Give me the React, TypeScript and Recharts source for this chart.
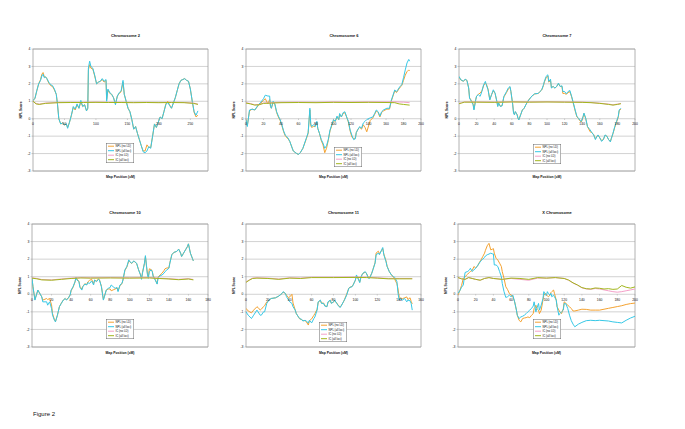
import React from 'react';
import {
  LineChart,
  Line,
  XAxis,
  YAxis,
  CartesianGrid,
  ReferenceArea,
  Legend,
  Label,
} from 'recharts';

const FONT = '"Liberation Sans", Arial, sans-serif';
const ORANGE = '#F4A230';
const CYAN = '#36C8E6';
const PINK = '#F4A0C8';
const GREEN = '#A2B61C';
const SERIES_ORDER = ['NPL (no LD)', 'NPL (all loci)', 'IC (no LD)', 'IC (all loci)'];

const yTicks = [-3, -2, -1, 0, 1, 2, 3, 4];
const chr2Ticks = [0, 50, 100, 150, 200, 250];
const ticks200 = [0, 20, 40, 60, 80, 100, 120, 140, 160, 180, 200];
const ticks180 = [0, 20, 40, 60, 80, 100, 120, 140, 160, 180];
const ticks160 = [0, 20, 40, 60, 80, 100, 120, 140, 160];

// Chromosome 2
const chr2Pos = [0, 3, 6, 9, 12, 14, 16, 18, 20, 22, 25, 28, 31, 34, 37, 39, 41, 44, 47, 50, 53, 55, 58, 61, 64, 67, 70, 73, 76, 79, 82, 85, 87, 88, 90, 92, 95, 98, 101, 104, 107, 110, 113, 116, 117, 119, 122, 125, 128, 131, 134, 137, 140, 143, 145, 148, 151, 154, 157, 160, 163, 166, 169, 172, 175, 178, 181, 184, 187, 190, 193, 196, 199, 202, 205, 208, 211, 214, 217, 220, 223, 226, 229, 232, 235, 238, 241, 244, 247, 250, 253, 256, 259, 262];
const chr2NplNoLd = [1.05, 1.15, 1.6, 2.0, 2.25, 2.55, 2.65, 2.4, 2.4, 2.3, 2.05, 1.9, 1.85, 1.65, 1.4, 0.8, 0.0, -0.3, -0.25, -0.35, -0.3, -0.5, -0.2, 0.2, 0.65, 0.5, 0.8, 0.6, 0.95, 0.7, 0.8, 0.45, 0.6, 2.8, 3.1, 2.9, 2.85, 2.45, 2.0, 2.1, 2.15, 2.25, 2.1, 2.2, 1.1, 1.65, 1.45, 1.4, 1.2, 0.85, 1.3, 1.45, 1.55, 2.1, 1.4, 1.0, 0.6, 0.4, -0.05, -0.6, -0.45, -0.85, -1.2, -1.55, -1.85, -1.85, -1.5, -1.65, -1.65, -1.0, -0.3, -0.5, -0.2, 0.1, 0.0, 0.4, 0.85, 1.0, 0.8, 0.6, 0.9, 1.2, 1.6, 2.0, 2.2, 2.25, 2.3, 2.2, 2.15, 1.7, 1.0, 0.35, 0.1, 0.2];
const chr2NplAll = [1.05, 1.15, 1.6, 2.0, 2.2, 2.45, 2.55, 2.35, 2.4, 2.3, 2.1, 1.95, 1.9, 1.7, 1.4, 0.8, 0.0, -0.3, -0.25, -0.35, -0.3, -0.55, -0.2, 0.2, 0.7, 0.55, 0.85, 0.6, 1.05, 0.7, 0.8, 0.45, 0.6, 2.9, 3.3, 3.0, 2.9, 2.5, 2.0, 2.1, 2.15, 2.3, 2.15, 2.25, 1.0, 1.7, 1.5, 1.4, 1.2, 0.8, 1.3, 1.5, 1.6, 2.2, 1.4, 1.0, 0.6, 0.4, -0.05, -0.6, -0.45, -0.85, -1.2, -1.55, -1.9, -1.95, -1.85, -1.6, -1.7, -1.0, -0.3, -0.5, -0.2, 0.1, 0.0, 0.4, 0.8, 0.95, 0.75, 0.6, 0.9, 1.2, 1.6, 2.0, 2.2, 2.25, 2.3, 2.2, 2.15, 1.7, 1.0, 0.4, 0.2, 0.45];
const chr2IcPos = [0, 5, 10, 20, 40, 60, 80, 100, 120, 140, 160, 180, 200, 220, 240, 255, 262];
const chr2IcNoLd = [1.0, 0.87, 0.84, 0.9, 0.93, 0.94, 0.94, 0.95, 0.94, 0.94, 0.93, 0.94, 0.93, 0.94, 0.93, 0.9, 0.84];
const chr2IcAll = [1.0, 0.85, 0.82, 0.88, 0.92, 0.93, 0.93, 0.94, 0.93, 0.93, 0.92, 0.93, 0.92, 0.93, 0.92, 0.88, 0.82];

// Chromosome 6
const chr6Pos = [0, 1.5, 4, 7, 10, 14, 17, 20, 22, 25, 27, 28, 29, 31, 33, 35, 37, 39, 41, 43, 45, 48, 50, 54, 58, 60, 62, 65, 69, 71, 73, 74, 75, 77, 79, 81, 82, 84, 86, 88, 90, 92, 94, 96, 98, 100, 102, 104, 106, 107, 109, 111, 113, 115, 117, 119, 121, 123, 125, 126, 128, 130, 132, 134, 136, 138, 142, 145, 147, 149, 151, 153, 155, 157, 161, 164, 166, 168, 170, 172, 174, 176, 178, 180, 182, 184, 186, 187];
const chr6NplNoLd = [-0.05, -0.4, 0.45, 0.55, 0.5, 0.75, 0.9, 1.05, 1.15, 0.85, 1.1, 0.7, 0.6, 0.95, 0.8, 0.35, 0.1, -0.1, -0.4, -0.75, -1.0, -1.15, -1.3, -1.85, -2.0, -2.05, -1.95, -1.7, -1.15, -0.85, 0.5, -0.4, -0.5, -0.45, -0.45, -0.2, -0.55, -0.85, -1.25, -1.5, -1.95, -1.7, -1.25, -0.7, -0.4, -0.1, -0.15, 0.1, -0.05, 0.25, 0.1, 0.3, 0.35, 0.1, -0.2, -0.7, -1.05, -1.15, -1.1, -0.8, -0.6, -0.5, -0.6, -0.35, -0.5, -0.75, -0.1, 0.05, 0.25, 0.45, 0.35, 0.1, 0.35, 0.45, 0.55, 0.55, 1.0, 1.3, 1.6, 1.5, 1.65, 1.8, 1.9, 2.2, 2.5, 2.7, 2.8, 2.75];
const chr6NplAll = [-0.05, -0.45, 0.5, 0.55, 0.5, 0.8, 0.95, 1.15, 1.35, 1.3, 1.3, 0.7, 0.6, 1.0, 0.85, 0.4, 0.15, -0.05, -0.35, -0.7, -0.95, -1.1, -1.3, -1.85, -2.0, -2.05, -1.95, -1.7, -1.1, -0.8, 0.6, -0.3, -0.45, -0.35, -0.45, -0.15, -0.55, -0.85, -1.2, -1.4, -1.7, -1.55, -1.2, -0.65, -0.35, -0.05, -0.15, 0.15, -0.05, 0.3, 0.1, 0.35, 0.4, 0.1, -0.15, -0.65, -0.95, -1.2, -1.15, -0.8, -0.6, -0.45, -0.55, -0.25, -0.15, -0.05, 0.05, 0.1, 0.3, 0.5, 0.4, 0.15, 0.4, 0.5, 0.6, 0.6, 1.05, 1.35, 1.65, 1.55, 1.7, 1.85, 1.95, 2.35, 2.8, 3.2, 3.4, 3.3];
const chr6IcPos = [0, 5, 10, 15, 20, 40, 60, 80, 100, 120, 140, 160, 170, 175, 180, 187];
const chr6IcNoLd = [0.92, 0.87, 0.8, 0.82, 0.9, 0.94, 0.95, 0.94, 0.96, 0.95, 0.96, 0.96, 0.97, 0.96, 0.95, 0.92];
const chr6IcAll = [0.9, 0.85, 0.78, 0.8, 0.88, 0.92, 0.93, 0.92, 0.94, 0.93, 0.94, 0.93, 0.92, 0.85, 0.82, 0.78];

// Chromosome 7
const chr7Pos = [0, 2, 5, 7, 9, 11, 12, 14, 16, 17, 19, 20, 22, 24, 26, 28, 30, 31, 33, 35, 37, 39, 41, 43, 44, 45, 47, 49, 51, 54, 56, 58, 59, 61, 62, 63, 64, 66, 67, 68, 70, 72, 74, 76, 78, 81, 83, 86, 90, 92, 94, 96, 97, 99, 101, 102, 104, 105, 107, 109, 111, 113, 115, 117, 118, 120, 122, 124, 126, 128, 130, 132, 134, 136, 137, 139, 141, 142, 144, 146, 149, 151, 153, 155, 157, 158, 160, 162, 164, 166, 168, 170, 172, 173, 175, 177, 179, 181, 182, 184];
const chr7NplNoLd = [2.4, 2.22, 2.15, 2.25, 2.2, 1.76, 1.2, 1.05, 0.85, 0.55, 1.1, 1.3, 1.4, 1.47, 1.6, 1.9, 2.05, 2.0, 1.7, 1.1, 1.38, 1.6, 1.45, 1.0, 0.72, 0.9, 0.72, 0.76, 1.25, 1.5, 1.7, 1.8, 1.56, 0.85, 0.35, 0.25, 0.4, 0.25, 0.05, -0.05, 0.22, 0.5, 0.6, 0.8, 0.99, 1.2, 1.3, 1.42, 1.45, 1.55, 1.65, 1.9, 2.1, 2.35, 2.45, 2.1, 2.2, 1.8, 1.85, 1.75, 1.85, 2.0, 1.85, 1.85, 1.45, 1.45, 1.4, 1.5, 1.55, 1.25, 0.85, 0.45, 0.1, 0.0, -0.1, -0.2, 0.1, 0.3, 0.0, -0.45, -0.75, -0.8, -0.9, -1.15, -1.0, -0.95, -1.1, -1.25, -1.2, -0.95, -1.0, -1.2, -1.3, -1.15, -0.85, -0.5, -0.2, 0.1, 0.45, 0.55];
const chr7NplAll = [2.43, 2.24, 2.15, 2.27, 2.2, 1.76, 1.18, 1.0, 0.8, 0.5, 1.08, 1.3, 1.38, 1.28, 1.56, 1.95, 2.14, 1.95, 1.66, 1.08, 1.38, 1.66, 1.47, 0.99, 0.7, 0.9, 0.7, 0.74, 1.28, 1.56, 1.76, 1.85, 1.56, 0.8, 0.32, 0.22, 0.41, 0.22, 0.03, -0.07, 0.22, 0.5, 0.6, 0.8, 0.99, 1.18, 1.31, 1.43, 1.45, 1.56, 1.66, 1.95, 2.14, 2.43, 2.52, 2.14, 2.27, 1.76, 1.85, 1.76, 1.85, 2.04, 1.85, 1.89, 1.56, 1.56, 1.43, 1.56, 1.62, 1.28, 0.9, 0.5, 0.13, 0.03, -0.07, -0.16, 0.13, 0.32, 0.03, -0.45, -0.64, -0.8, -0.93, -1.2, -1.0, -0.93, -1.1, -1.3, -1.2, -0.93, -1.0, -1.2, -1.33, -1.15, -0.83, -0.45, -0.16, 0.13, 0.5, 0.6];
const chr7IcPos = [0, 3, 6, 20, 40, 60, 80, 100, 120, 140, 150, 160, 170, 175, 180, 184];
const chr7IcNoLd = [0.88, 0.92, 0.96, 0.96, 0.95, 0.97, 0.96, 0.97, 0.96, 0.95, 0.93, 0.89, 0.84, 0.8, 0.84, 0.88];
const chr7IcAll = [0.86, 0.9, 0.95, 0.95, 0.94, 0.96, 0.95, 0.96, 0.95, 0.94, 0.92, 0.88, 0.82, 0.78, 0.82, 0.86];

// Chromosome 10
const chr10Pos = [0, 1, 3, 6, 10, 11, 15, 16, 18, 20, 21, 23, 24, 26, 28, 30, 32, 34, 35, 37, 39, 40, 42, 44, 45, 46, 48, 49, 51, 52, 54, 56, 57, 59, 61, 63, 64, 66, 68, 69, 71, 73, 76, 78, 80, 81, 83, 85, 87, 88, 90, 92, 93, 95, 97, 99, 100, 102, 104, 105, 107, 109, 111, 112, 113, 115, 116, 117, 118, 119, 120, 122, 123, 124, 126, 128, 129, 131, 133, 135, 136, 138, 140, 141, 143, 145, 148, 150, 152, 153, 155, 157, 159, 160, 162, 164, 165];
const chr10NplNoLd = [0.91, 0.43, -0.3, 0.24, -0.15, -0.33, -0.24, -0.3, -0.24, -0.6, -1.1, -1.45, -1.55, -1.19, -0.71, -0.5, -0.33, -0.24, -0.3, -0.22, -0.04, 0.2, 0.4, 0.7, 0.95, 0.85, 0.75, 0.45, 0.3, 0.45, 0.6, 0.55, 0.7, 0.8, 0.85, 0.6, 0.8, 0.75, 0.88, 0.82, 0.45, -0.3, 0.24, 0.3, 0.3, 0.2, 0.25, 0.3, 0.35, 0.2, 0.5, 0.6, 0.8, 1.35, 1.55, 1.9, 1.85, 1.75, 1.88, 1.85, 1.75, 1.4, 1.1, 0.9, 1.25, 1.75, 2.15, 1.65, 1.2, 1.0, 1.45, 1.4, 1.3, 1.05, 0.85, 0.6, 0.98, 1.1, 1.2, 1.35, 1.45, 1.5, 1.5, 1.8, 2.25, 2.38, 2.44, 2.57, 2.34, 2.15, 2.34, 2.53, 2.72, 2.87, 2.34, 2.05, 1.9];
const chr10NplAll = [0.91, 0.43, -0.33, 0.24, -0.15, -0.43, -0.43, -0.62, -0.43, -0.81, -1.19, -1.48, -1.57, -1.19, -0.71, -0.52, -0.33, -0.24, -0.33, -0.24, -0.04, 0.24, 0.43, 0.72, 0.97, 0.81, 0.72, 0.39, 0.24, 0.43, 0.58, 0.53, 0.66, 0.62, 0.76, 0.53, 0.81, 0.72, 0.85, 0.81, 0.43, -0.33, 0.24, 0.34, 0.39, 0.53, 0.43, 0.34, 0.39, 0.15, 0.53, 0.62, 0.81, 1.39, 1.58, 1.96, 1.86, 1.77, 1.9, 1.86, 1.77, 1.39, 1.1, 0.85, 1.2, 1.77, 2.2, 1.67, 1.14, 0.91, 1.29, 1.39, 1.29, 1.0, 0.81, 0.58, 0.96, 1.05, 1.1, 1.2, 1.29, 1.39, 1.48, 1.77, 2.25, 2.38, 2.44, 2.57, 2.34, 2.15, 2.34, 2.53, 2.72, 2.87, 2.34, 2.05, 1.9];
const chr10IcPos = [0, 5, 10, 20, 30, 40, 50, 60, 80, 100, 120, 130, 140, 150, 160, 165];
const chr10IcNoLd = [0.94, 0.9, 0.84, 0.82, 0.87, 0.92, 0.95, 0.94, 0.95, 0.94, 0.95, 0.92, 0.89, 0.85, 0.89, 0.84];
const chr10IcAll = [0.92, 0.88, 0.82, 0.8, 0.85, 0.9, 0.93, 0.92, 0.93, 0.92, 0.93, 0.9, 0.87, 0.83, 0.87, 0.82];

// Chromosome 11
const chr11Pos = [0, 2, 5, 7, 10, 11, 13, 14, 16, 17, 19, 21, 23, 27, 30, 33, 34, 36, 37, 39, 40, 42, 43, 45, 46, 48, 49, 51, 52, 54, 55, 57, 58, 60, 62, 63, 65, 66, 68, 69, 71, 72, 74, 75, 77, 78, 80, 81, 83, 84, 86, 87, 89, 90, 92, 94, 95, 97, 98, 100, 101, 103, 104, 105, 106, 107, 109, 110, 112, 113, 115, 116, 118, 119, 121, 122, 124, 125, 126, 128, 129, 131, 133, 135, 136, 138, 139, 140, 141, 143, 145, 147, 148, 150, 151, 152];
const chr11NplNoLd = [-0.8, -0.95, -1.06, -0.9, -0.71, -0.75, -0.9, -0.85, -0.7, -0.65, -0.43, -0.33, -0.24, -0.2, -0.1, 0.05, 0.12, 0.05, -0.05, -0.2, -0.15, 0.0, -0.5, -0.9, -1.1, -1.3, -1.4, -1.45, -1.5, -1.5, -1.55, -1.75, -1.5, -1.4, -1.2, -1.1, -0.85, -0.45, -0.35, -0.5, -0.5, -0.65, -0.7, -0.45, -0.35, -0.5, -0.45, -0.35, -0.5, -0.6, -0.72, -0.65, -0.45, -0.3, 0.0, 0.35, 0.4, 0.45, 0.55, 0.8, 1.05, 0.85, 0.7, 0.95, 1.1, 1.2, 1.25, 1.2, 0.95, 0.95, 1.2, 1.4, 1.8, 2.35, 2.45, 2.3, 2.5, 2.6, 2.3, 1.9, 1.6, 1.3, 1.1, 0.95, 0.85, 0.6, 0.3, -0.15, -0.2, -0.25, -0.2, -0.15, -0.3, -0.2, -0.4, -0.55];
const chr11NplAll = [-1.0, -1.19, -1.38, -1.19, -0.9, -1.0, -1.19, -1.19, -1.0, -1.0, -0.52, -0.33, -0.24, -0.2, -0.1, 0.05, 0.15, 0.05, -0.14, -0.33, -0.43, -0.52, -0.71, -0.9, -1.1, -1.29, -1.38, -1.43, -1.52, -1.48, -1.52, -1.63, -1.48, -1.63, -1.38, -1.29, -0.9, -0.43, -0.33, -0.52, -0.52, -0.67, -0.71, -0.43, -0.33, -0.52, -0.43, -0.33, -0.52, -0.62, -0.76, -0.67, -0.43, -0.33, -0.05, 0.34, 0.39, 0.43, 0.53, 0.81, 1.1, 0.81, 0.66, 0.96, 1.1, 1.2, 1.29, 1.2, 0.91, 0.91, 1.2, 1.39, 1.77, 2.25, 2.34, 2.25, 2.53, 2.66, 2.25, 1.86, 1.58, 1.29, 1.1, 1.0, 0.96, 0.72, 0.05, -0.33, -0.24, -0.33, -0.24, -0.43, -0.33, -0.37, -0.52, -0.9];
const chr11IcPos = [0, 3, 6, 10, 20, 30, 40, 50, 60, 80, 100, 110, 120, 130, 140, 152];
const chr11IcNoLd = [0.7, 0.82, 0.92, 0.94, 0.92, 0.87, 0.94, 0.92, 0.97, 0.97, 0.98, 0.97, 0.94, 0.9, 0.9, 0.9];
const chr11IcAll = [0.68, 0.8, 0.9, 0.92, 0.9, 0.85, 0.92, 0.9, 0.95, 0.95, 0.96, 0.95, 0.92, 0.88, 0.88, 0.88];

// X chromosome
const chrXPos = [0, 2, 4, 6, 8, 11, 13, 14, 16, 18, 20, 22, 24, 26, 28, 30, 31, 33, 35, 37, 39, 40, 41, 43, 45, 47, 49, 50, 52, 54, 56, 58, 60, 62, 64, 66, 67, 69, 71, 73, 75, 77, 79, 81, 83, 85, 86, 87, 88, 89, 91, 92, 94, 96, 97, 99, 100, 101, 102, 104, 105, 106, 108, 109, 111, 112, 114, 115, 117, 119, 120, 122, 124, 126, 128, 130, 132, 136, 140, 145, 150, 155, 160, 165, 170, 175, 180, 185, 190, 195, 200];
const chrXNplNoLd = [-0.05, 0.2, 0.5, 0.91, 1.0, 1.15, 1.25, 1.3, 1.35, 1.58, 1.5, 1.6, 1.8, 1.95, 2.15, 2.34, 2.5, 2.76, 2.9, 2.53, 2.57, 2.6, 2.34, 2.05, 1.95, 1.77, 1.58, 1.29, 0.91, 0.43, 0.27, 0.05, -0.05, -0.14, -0.43, -0.9, -1.19, -1.48, -1.57, -1.38, -1.35, -1.33, -1.29, -1.33, -1.2, -1.1, -0.81, -0.75, -0.62, -0.8, -0.9, -1.1, -0.9, -0.33, -0.05, 0.05, -0.05, -0.1, -0.14, -0.05, 0.1, 0.15, 0.24, 0.05, -0.33, -0.71, -0.9, -1.0, -1.1, -0.81, -0.43, -0.52, -0.62, -0.71, -0.81, -0.95, -0.95, -0.9, -0.85, -0.86, -0.9, -0.9, -0.9, -0.85, -0.8, -0.75, -0.7, -0.65, -0.58, -0.53, -0.5];
const chrXNplAll = [0.05, 0.2, 0.4, 0.53, 1.24, 1.3, 1.39, 1.48, 1.3, 1.39, 1.48, 1.62, 1.77, 1.92, 2.0, 2.1, 2.18, 2.25, 2.29, 2.34, 2.3, 2.3, 1.67, 1.67, 1.58, 1.29, 1.0, 0.62, 0.15, -0.18, -0.14, -0.05, -0.14, -0.05, -0.43, -0.9, -1.19, -1.38, -1.29, -1.25, -1.19, -1.1, -1.0, -0.9, -0.81, -0.67, -0.43, -0.71, -1.0, -0.81, -0.52, -0.9, -0.62, -0.24, 0.15, -0.05, -0.05, 0.15, 0.05, -0.05, 0.05, -0.14, -0.05, -0.14, -0.33, -0.71, -1.19, -1.1, -1.0, -0.9, -0.52, -0.55, -0.81, -1.19, -1.5, -1.7, -1.85, -1.7, -1.6, -1.5, -1.48, -1.5, -1.48, -1.5, -1.52, -1.57, -1.6, -1.63, -1.48, -1.35, -1.25];
const chrXIcPos = [0, 4, 8, 12, 16, 20, 25, 30, 35, 40, 50, 60, 70, 80, 90, 100, 110, 120, 125, 130, 135, 140, 145, 150, 155, 160, 165, 170, 175, 180, 185, 190, 195, 200];
const chrXIcNoLd = [0.95, 0.88, 0.85, 0.95, 0.9, 0.85, 0.8, 0.9, 0.95, 0.9, 0.85, 0.9, 0.85, 0.8, 0.92, 0.92, 0.95, 0.9, 0.8, 0.64, 0.52, 0.37, 0.3, 0.28, 0.33, 0.3, 0.25, 0.2, 0.15, 0.12, 0.15, 0.2, 0.25, 0.3];
const chrXIcAll = [0.95, 0.88, 0.85, 0.95, 0.9, 0.85, 0.8, 0.9, 0.95, 0.9, 0.85, 0.92, 0.9, 0.85, 0.95, 0.92, 0.95, 0.9, 0.81, 0.65, 0.53, 0.38, 0.32, 0.3, 0.36, 0.34, 0.3, 0.32, 0.28, 0.3, 0.5, 0.4, 0.35, 0.42];

const toRows = (xs: number[], noLd: number[], all: number[]) =>
  xs.map((x, i) => ({ x, noLd: noLd[i], all: all[i] }));

type Row = { x: number; noLd: number; all: number };

interface PanelProps {
  title: string;
  titleX: number;
  titleY: number;
  left: number;
  top: number;
  width: number;
  height: number;
  xMax: number;
  xTicks: number[];
  npl: Row[];
  ic: Row[];
  legendLeft: number;
  legendTop: number;
}

// x labels sit on the zero line, like the Excel original
function ZeroTick(props: any) {
  const { x, y, payload, shift } = props;
  const zy = y - shift;
  return (
    <g>
      <line x1={x} x2={x} y1={zy} y2={zy + 1.2} stroke="#999" strokeWidth={0.5} />
      <text x={x} y={zy + 6.4} textAnchor="middle" fontSize={3.4} fill="#111" fontFamily={FONT}>
        {payload.value}
      </text>
    </g>
  );
}

function LegendBox({ payload }: any) {
  const items = [...(payload || [])].sort(
    (a: any, b: any) => SERIES_ORDER.indexOf(a.value) - SERIES_ORDER.indexOf(b.value)
  );
  return (
    <svg width={28} height={20} style={{ display: 'block' }}>
      <rect x={0.25} y={0.25} width={27.5} height={19.5} fill="#fff" stroke="#666" strokeWidth={0.5} />
      {items.map((p: any, i: number) => (
        <g key={i}>
          <line x1={2} x2={8} y1={3.2 + i * 4.5} y2={3.2 + i * 4.5} stroke={p.color} strokeWidth={1} />
          <text x={9.5} y={4.3 + i * 4.5} fontSize={2.8} fill="#111" fontFamily={FONT}>
            {p.value}
          </text>
        </g>
      ))}
    </svg>
  );
}

function Panel(p: PanelProps) {
  const chartLeft = p.left - 33;
  const chartTop = p.top - 25;
  const w = p.width + 45;
  const h = p.height + 37;
  const shift = (p.height * 3) / 7;
  return (
    <div style={{ position: 'absolute', left: chartLeft, top: chartTop }}>
      <LineChart width={w} height={h} margin={{ top: 25, right: 12, left: 11, bottom: 5 }}>
        <CartesianGrid vertical={false} stroke="#C6C6C6" strokeWidth={0.8} />
        <ReferenceArea x1={0} x2={p.xMax} y1={-3} y2={4} fill="none" stroke="#A0A0A0" strokeWidth={0.8} />
        <XAxis
          type="number"
          dataKey="x"
          domain={[0, p.xMax]}
          ticks={p.xTicks}
          interval={0}
          height={7}
          axisLine={false}
          tickLine={false}
          tickSize={0}
          tickMargin={0}
          tick={<ZeroTick shift={shift} />}
          allowDataOverflow
        >
          <Label value="Map Position (cM)" position="insideBottom" offset={0} fontSize={3.4} fontWeight="bold" fill="#111" fontFamily={FONT} />
        </XAxis>
        <YAxis
          type="number"
          domain={[-3, 4]}
          ticks={yTicks}
          interval={0}
          width={22}
          axisLine={false}
          tickSize={1.5}
          tickMargin={1}
          tickLine={{ stroke: '#999', strokeWidth: 0.5 }}
          tick={{ fontSize: 3.4, fill: '#111', fontFamily: FONT }}
          allowDataOverflow
        >
          <Label value="NPL Score" angle={-90} position="center" dx={-1.6} fontSize={3.4} fontWeight="bold" fill="#111" fontFamily={FONT} />
        </YAxis>
        <Legend
          layout="vertical"
          align="center"
          verticalAlign="middle"
          content={<LegendBox />}
          wrapperStyle={{ left: p.legendLeft - chartLeft, top: p.legendTop - chartTop, width: 28, height: 20 }}
        />
        <Line data={p.npl} dataKey="noLd" name="NPL (no LD)" stroke={ORANGE} strokeWidth={1} dot={false} isAnimationActive={false} />
        <Line data={p.npl} dataKey="all" name="NPL (all loci)" stroke={CYAN} strokeWidth={1} dot={false} isAnimationActive={false} />
        <Line data={p.ic} dataKey="noLd" name="IC (no LD)" stroke={PINK} strokeWidth={1} dot={false} isAnimationActive={false} />
        <Line data={p.ic} dataKey="all" name="IC (all loci)" stroke={GREEN} strokeWidth={1} dot={false} isAnimationActive={false} />
      </LineChart>
    </div>
  );
}

const panels: PanelProps[] = [
  { title: 'Chromosome 2', titleX: 125.5, titleY: 37.3, left: 33, top: 49, width: 175, height: 122, xMax: 278, xTicks: chr2Ticks, npl: toRows(chr2Pos, chr2NplNoLd, chr2NplAll), ic: toRows(chr2IcPos, chr2IcNoLd, chr2IcAll), legendLeft: 106, legendTop: 143 },
  { title: 'Chromosome 6', titleX: 344, titleY: 37.3, left: 246, top: 49, width: 175, height: 122, xMax: 200, xTicks: ticks200, npl: toRows(chr6Pos, chr6NplNoLd, chr6NplAll), ic: toRows(chr6IcPos, chr6IcNoLd, chr6IcAll), legendLeft: 334, legendTop: 147 },
  { title: 'Chromosome 7', titleX: 557, titleY: 37.3, left: 459, top: 49, width: 176, height: 122, xMax: 200, xTicks: ticks200, npl: toRows(chr7Pos, chr7NplNoLd, chr7NplAll), ic: toRows(chr7IcPos, chr7IcNoLd, chr7IcAll), legendLeft: 533, legendTop: 144 },
  { title: 'Chromosome 10', titleX: 125, titleY: 214, left: 32, top: 224, width: 176, height: 123, xMax: 180, xTicks: ticks180, npl: toRows(chr10Pos, chr10NplNoLd, chr10NplAll), ic: toRows(chr10IcPos, chr10IcNoLd, chr10IcAll), legendLeft: 106, legendTop: 319 },
  { title: 'Chromosome 11', titleX: 343.5, titleY: 214, left: 246, top: 224, width: 175, height: 123, xMax: 160, xTicks: ticks160, npl: toRows(chr11Pos, chr11NplNoLd, chr11NplAll), ic: toRows(chr11IcPos, chr11IcNoLd, chr11IcAll), legendLeft: 319, legendTop: 322 },
  { title: 'X Chromosome', titleX: 557, titleY: 214, left: 458, top: 224, width: 177, height: 123, xMax: 200, xTicks: ticks200, npl: toRows(chrXPos, chrXNplNoLd, chrXNplAll), ic: toRows(chrXIcPos, chrXIcNoLd, chrXIcAll), legendLeft: 533, legendTop: 319 },
];

export default function App() {
  return (
    <div style={{ position: 'absolute', left: 0, top: 0, width: 685, height: 429, background: '#fff', overflow: 'hidden' }}>
      {panels.map((p) => (
        <Panel key={p.title} {...p} />
      ))}
      <svg width={685} height={429} style={{ position: 'absolute', left: 0, top: 0, pointerEvents: 'none' }}>
        {panels.map((p) => (
          <text key={p.title} x={p.titleX} y={p.titleY} textAnchor="middle" fontSize={4} fontWeight="bold" fill="#111" fontFamily={FONT}>
            {p.title}
          </text>
        ))}
        <text x={33} y={416} fontSize={6} fill="#111" fontFamily={FONT}>
          Figure 2
        </text>
      </svg>
    </div>
  );
}
